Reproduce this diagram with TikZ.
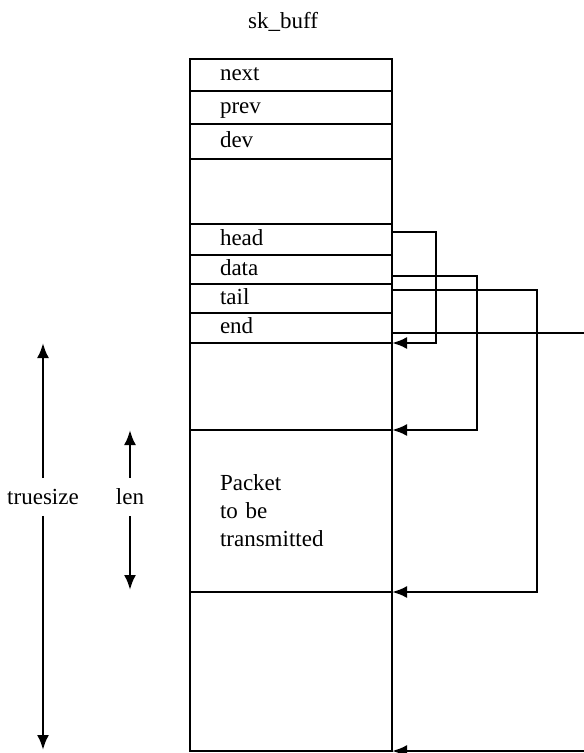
\documentclass[tikz,border=0pt]{standalone}
\usepackage{fontspec}
\setmainfont{Liberation Serif}
\usetikzlibrary{arrows.meta,positioning}

\begin{document}
\begin{tikzpicture}[x=1pt,y=-1pt,line width=2.5pt,font=\fontsize{23}{28}\selectfont,
 box/.style={draw,rectangle,outer sep=0pt,minimum height=#1,text width=142pt,inner xsep=30pt,inner ysep=0pt,align=left},
 field/.style={box=#1,text height=16pt,text depth=5pt},
 ptr/.style={-{Latex[length=15pt,width=12pt]}},
 dimlab/.style={inner xsep=2pt,inner ysep=10pt}]
\useasboundingbox (0,0) rectangle (584,753);
\node (title) at (283,22) {sk\_buff};
% the sk_buff fields
\node[field=32pt,anchor=north west] (next) at (190,59) {next};
\node[field=33pt,below=0pt of next] (prev) {prev};
\node[field=35pt,below=0pt of prev] (dev) {dev};
\node[field=65pt,below=0pt of dev] (blank) {};
\node[field=31pt,below=0pt of blank] (head) {head};
\node[field=29pt,below=0pt of head] (data) {data};
\node[field=29pt,below=0pt of data] (tail) {tail};
\node[field=30pt,below=0pt of tail] (endf) {end};
% the buffer
\node[field=87pt,below=0pt of endf] (headroom) {};
\node[box=162pt,below=0pt of headroom] (pkt) {Packet\\to be\\transmitted};
\node[field=159pt,below=0pt of pkt] (tailroom) {};
% pointers
\draw[ptr] ([yshift=7.5pt]head.east) -- ++(44,0) |- (headroom.north east);
\draw[ptr] ([yshift=-6.5pt]data.east) -- ++(85,0) |- (pkt.north east);
\draw[ptr] ([yshift=8.5pt]tail.east) -- ++(145,0) |- (tailroom.north east);
\draw[ptr] ([yshift=-5pt]endf.east) -- ++(230,0) |- (tailroom.south east);
% sizes
\node[dimlab] (truesize) at (43,497) {truesize};
\coordinate (tstop) at (43,343);\coordinate (tsbot) at (43,750);
\draw[ptr] (truesize) -- (tstop);\draw[ptr] (truesize) -- (tsbot);
\node[dimlab] (len) at (130,497) {len};
\coordinate (lentop) at (130,430);\coordinate (lenbot) at (130,590);
\draw[ptr] (len) -- (lentop);\draw[ptr] (len) -- (lenbot);
\end{tikzpicture}
\end{document}
